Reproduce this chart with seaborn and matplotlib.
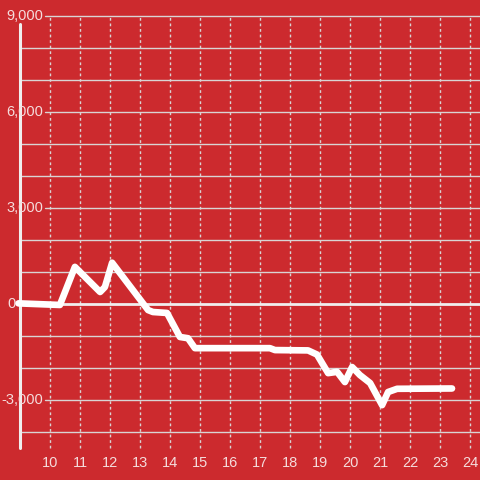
import numpy as np
import pandas as pd
import seaborn as sns
import matplotlib.pyplot as plt

# values
hours = [8.95, 10.33, 10.83, 11.67, 11.83, 12.07, 13.27, 13.43, 13.9, 14.33, 14.6, 14.83,
         17.33, 17.5, 18.6, 18.9, 19.27, 19.57, 19.83, 20.07, 20.33, 20.67, 21.07, 21.27,
         21.57, 23.4]
balance = [20, -30, 1160, 375, 530, 1290, -190, -250, -280, -1030, -1070, -1380,
           -1380, -1440, -1450, -1580, -2160, -2120, -2440, -1970, -2220, -2470, -3160, -2750,
           -2650, -2640]

x_ticks = list(range(10, 25))
y_ticks = [-3000, 0, 3000, 6000, 9000]
y_minor = [v for v in range(-4000, 10000, 1000) if v % 3000 != 0]

df = pd.DataFrame({"hour": hours, "balance": balance})

bg = "#cc2a2e"
grid = "#d9d4d4"
txt = "#f5dcdc"

sns.set_theme(style="white")
plt.rcParams["font.family"] = ["Liberation Sans", "DejaVu Sans"]

fig = plt.figure(figsize=(4.8, 4.8), dpi=100, facecolor=bg)
ax = fig.add_axes([0, 0, 1, 1])
ax.set_facecolor(bg)
ax.set_xlim(8.333, 24.333)
ax.set_ylim(-5500, 9500)
ax.axis("off")

# vertical dotted grid
for x in x_ticks:
    ax.plot([x, x], [-4500, 9000], color=grid, lw=1.0, ls=(0, (2, 2)), zorder=1)
    ax.text(x, -4980, str(x), color=txt, fontsize=10.5, ha="center", va="center")

# horizontal grid
for v in y_minor:
    ax.plot([9.0, 24.333], [v, v], color=grid, lw=1.0, zorder=1)
for v in y_ticks:
    if v == 0:
        continue
    ax.plot([9.833, 24.333], [v, v], color=grid, lw=1.0, zorder=1)
    ax.text(9.77, v, f"{v:,}", color=txt, fontsize=10.5, ha="right", va="center", zorder=3)
ax.text(8.84, 0, "0", color=txt, fontsize=10.5, ha="right", va="center", zorder=3)

# left spine and zero line
ax.plot([9.0, 9.0], [-4500, 8750], color="#f0eeee", lw=2.2, zorder=2)
ax.plot([8.9, 24.333], [0, 0], color="#f0eeee", lw=2.0, zorder=2)

sns.lineplot(data=df, x="hour", y="balance", sort=False, color="white",
             lw=4.8, ax=ax, zorder=4)
ax.axis("off")

fig.savefig("out.png", dpi=100, facecolor=bg)
